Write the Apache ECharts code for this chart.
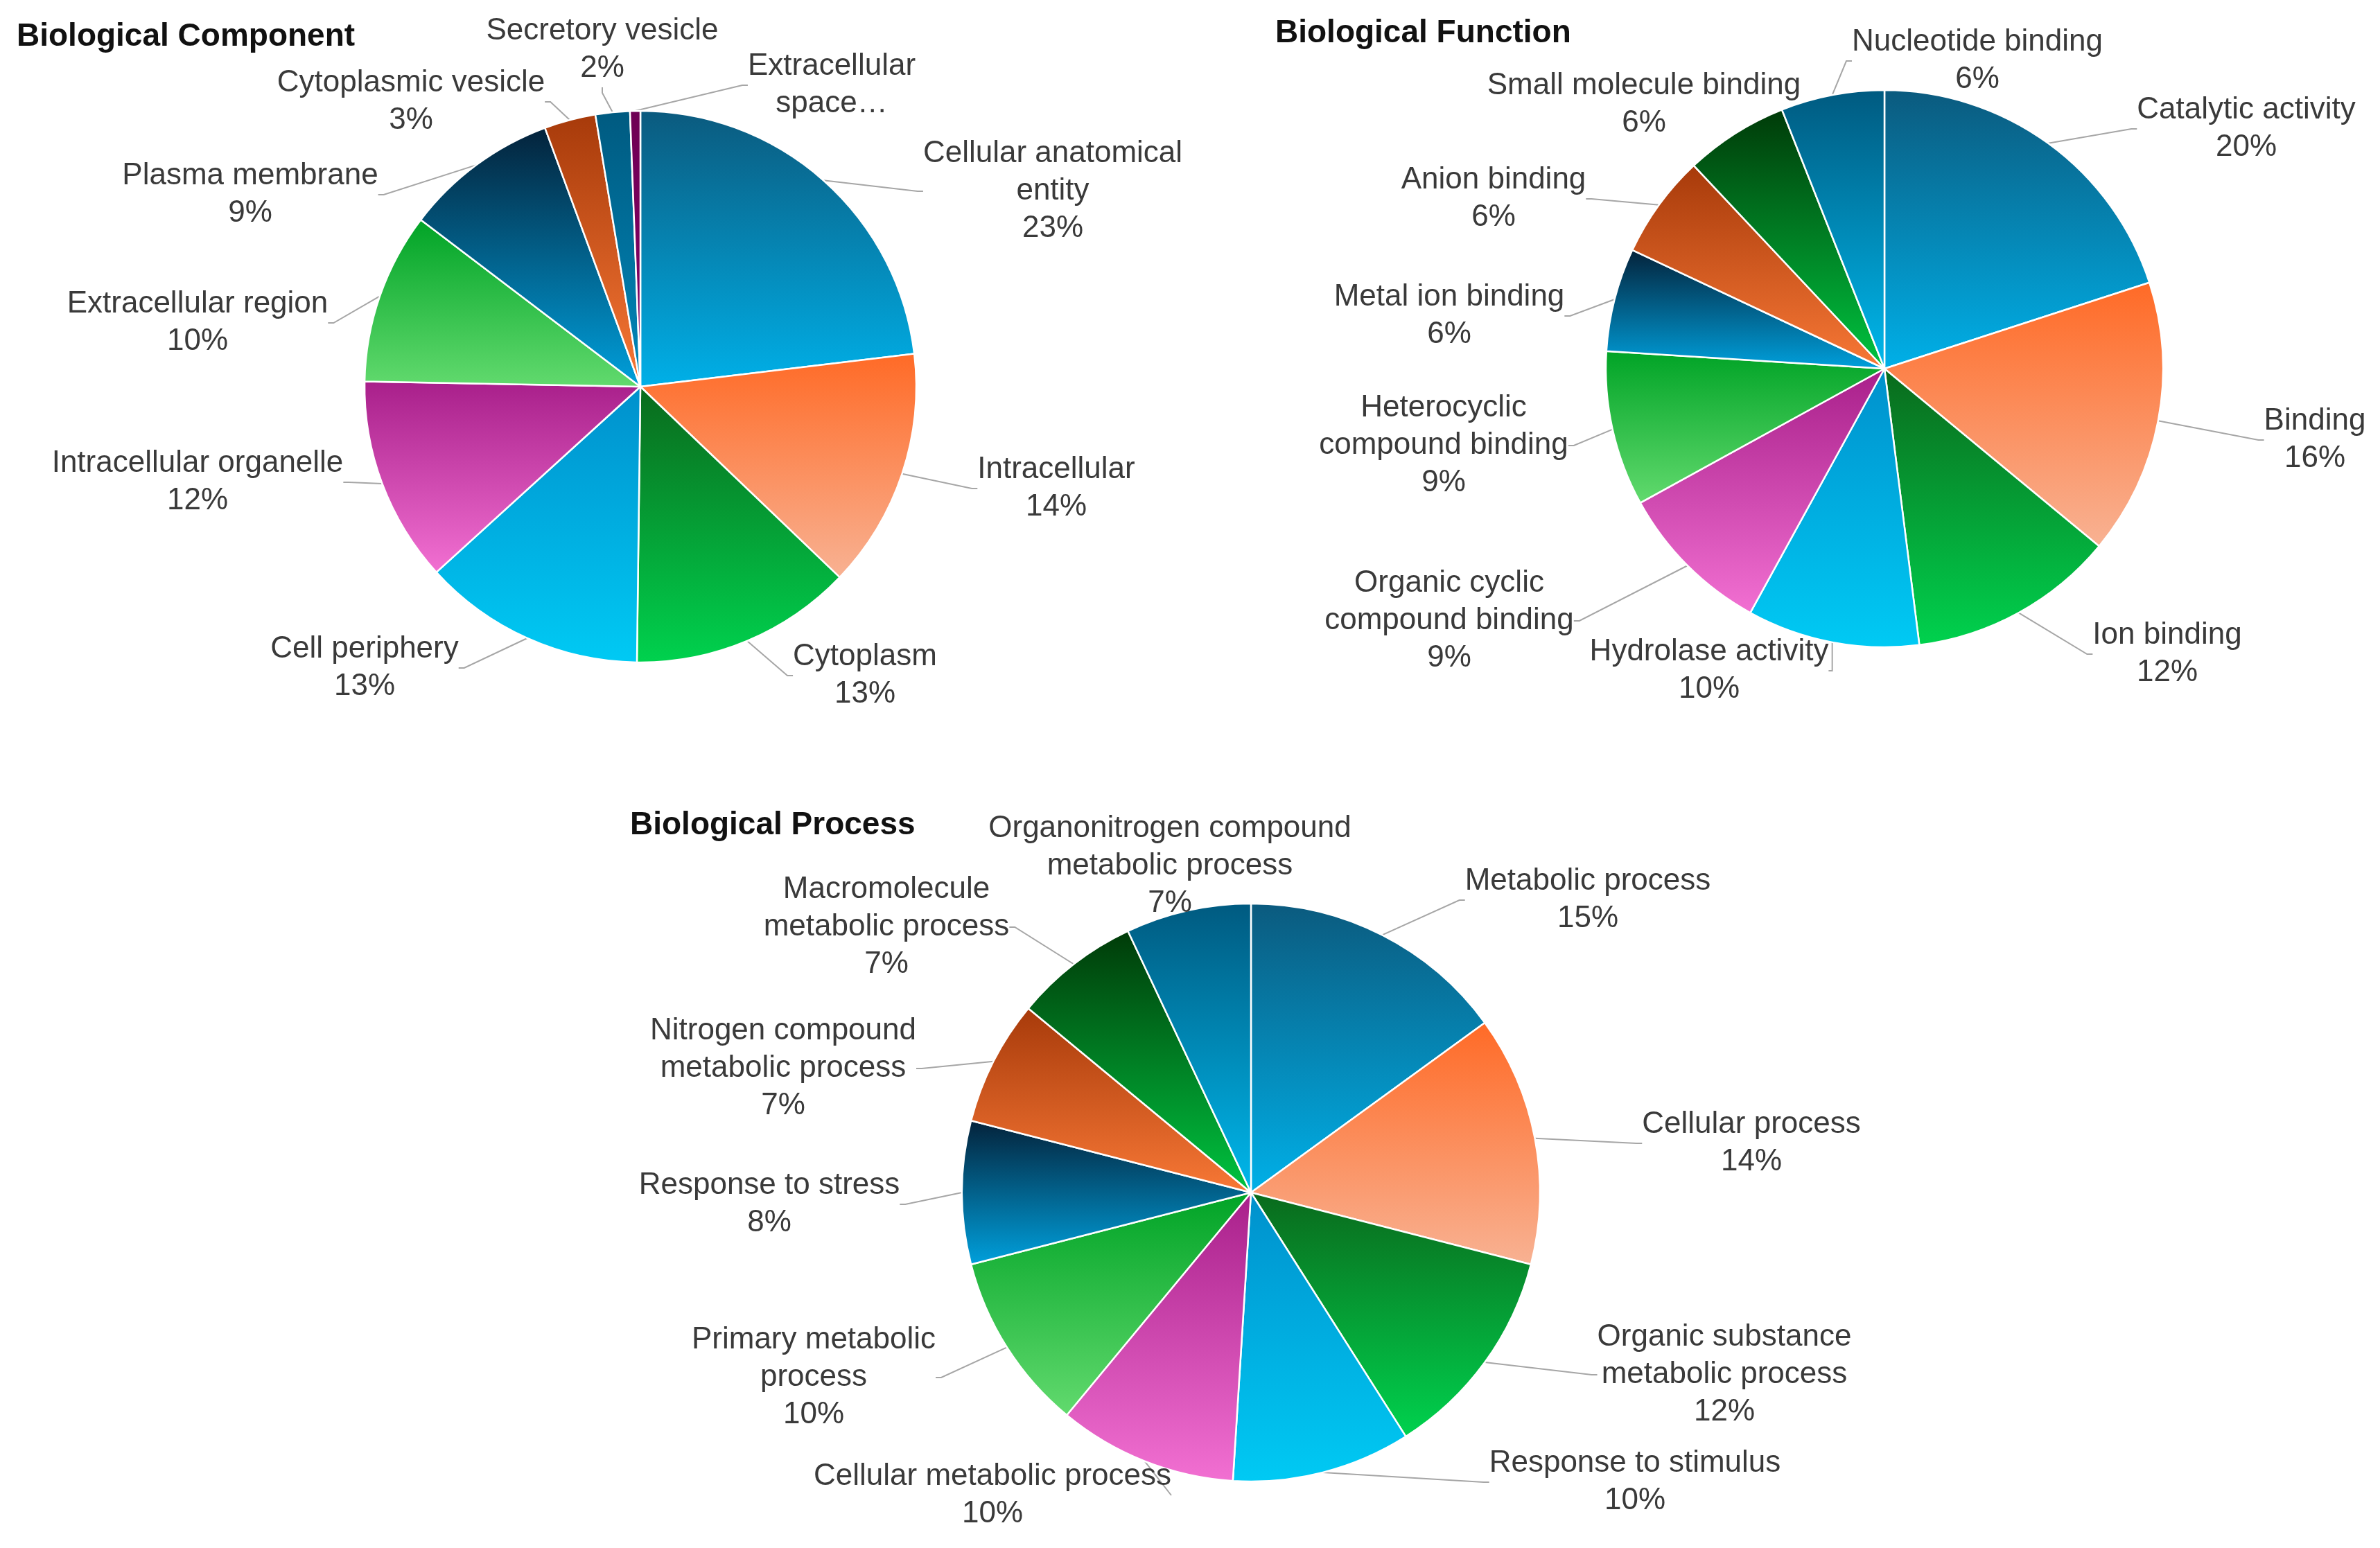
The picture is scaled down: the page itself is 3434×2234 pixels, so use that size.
<!DOCTYPE html>
<html><head><meta charset="utf-8">
<script src="https://cdn.jsdelivr.net/npm/echarts@6/dist/echarts.min.js"></script>
<style>html,body{margin:0;padding:0;background:#fff}#chart{width:3434px;height:2234px}</style>
</head><body><div id="chart"></div>
<script>
// ---- data ----
const bcCategories = ['Cellular anatomical\nentity','Intracellular','Cytoplasm','Cell periphery','Intracellular organelle','Extracellular region','Plasma membrane','Cytoplasmic vesicle','Secretory vesicle','Extracellular\nspace…'];
const bcValues = [23,14,13,13,12,10,9,3,2,0.6];
const bfCategories = ['Catalytic activity','Binding','Ion binding','Hydrolase activity','Organic cyclic\ncompound binding','Heterocyclic\ncompound binding','Metal ion binding','Anion binding','Small molecule binding','Nucleotide binding'];
const bfValues = [20,16,12,10,9,9,6,6,6,6];
const bpCategories = ['Metabolic process','Cellular process','Organic substance\nmetabolic process','Response to stimulus','Cellular metabolic process','Primary metabolic\nprocess','Response to stress','Nitrogen compound\nmetabolic process','Macromolecule\nmetabolic process','Organonitrogen compound\nmetabolic process'];
const bpValues = [15,14,12,10,10,10,8,7,7,7];

// ---- styles / layout ----
const FONT = '"Liberation Sans", Arial, sans-serif';
const grad = (t, b) => ({type:'linear', x:0, y:0, x2:0, y2:1, colorStops:[{offset:0,color:t},{offset:1,color:b}]});
const base = [
  ['#0b5a7e','#00b0e8'],
  ['#ff6a26','#f8b293'],
  ['#0a6a1c','#00d24e'],
  ['#0090cc','#00caf4'],
  ['#a81f8a','#f270d2'],
  ['#00a326','#62da6e'],
  ['#04223a','#00a0dc'],
  ['#a73a0a','#f87836']
];
const bcColors = base.concat([['#005a80','#0088bb'],['#6e0054','#8a0068']]);
const bfColors = base.concat([['#003a08','#00c440'],['#005a80','#00b8ec']]);
const bpColors = bfColors;

const bcLabelPos = [[1519,276],[1524,705],[1248,975],[526,964],[285,696],[285,466],[361,281],[593,147],[869,72],[1200,123]];
const bfLabelPos = [[3241,186],[3340,635],[3127,944],[2466,968],[2091,896],[2083,643],[2091,456],[2155,287],[2372,151],[2853,88]];
const bpLabelPos = [[2291,1299],[2527,1650],[2488,1984],[2359,2139],[1432,2158],[1174,1988],[1110,1738],[1130,1542],[1279,1338],[1688,1250]];

function pieSeries(cats, vals, colors, center, radius, pos) {
  return {
    type:'pie', center:center, radius:radius, startAngle:90, clockwise:true,
    avoidLabelOverlap:false, animation:false,
    data: cats.map((n,i)=>({name:n, value:vals[i], itemStyle:{color:grad(colors[i][0], colors[i][1])}})),
    itemStyle:{borderColor:'#ffffff', borderWidth:2.5},
    label:{
      show:true, position:'outside', color:'#3a3a3a', fontFamily:FONT, fontSize:44, lineHeight:54,
      formatter: p => {
        const lines = p.name.split('\n');
        if (!p.name.endsWith('…')) lines.push(Math.round(p.percent) + '%');
        return lines.map(l => '{c|' + l + '}').join('\n');
      },
      rich:{ c:{ align:'center', fontSize:44, lineHeight:54, color:'#3a3a3a', fontFamily:FONT } }
    },
    labelLine:{ show:true, length:20, length2:8, lineStyle:{ color:'#a6a6a6', width:2 } },
    labelLayout: params => {
      const q = pos[params.dataIndex];
      return { x:q[0], y:q[1], align:'center', verticalAlign:'middle' };
    },
    emphasis:{ disabled:true }
  };
}

const titleStyle = { fontFamily:FONT, fontSize:46, fontWeight:'bold', color:'#111', lineHeight:54 };
const chart = echarts.init(document.getElementById('chart'));
chart.setOption({
  backgroundColor:'#ffffff',
  animation:false,
  title:[
    { text:'Biological Component', left:24, top:26, padding:0, textStyle:titleStyle },
    { text:'Biological Function', left:1840, top:21, padding:0, textStyle:titleStyle },
    { text:'Biological Process', left:909, top:1164, padding:0, textStyle:titleStyle }
  ],
  series:[
    pieSeries(bcCategories, bcValues, bcColors, [924,558], 398, bcLabelPos),
    pieSeries(bfCategories, bfValues, bfColors, [2719,532], 402, bfLabelPos),
    pieSeries(bpCategories, bpValues, bpColors, [1805,1721], 417, bpLabelPos)
  ]
});
</script></body></html>
